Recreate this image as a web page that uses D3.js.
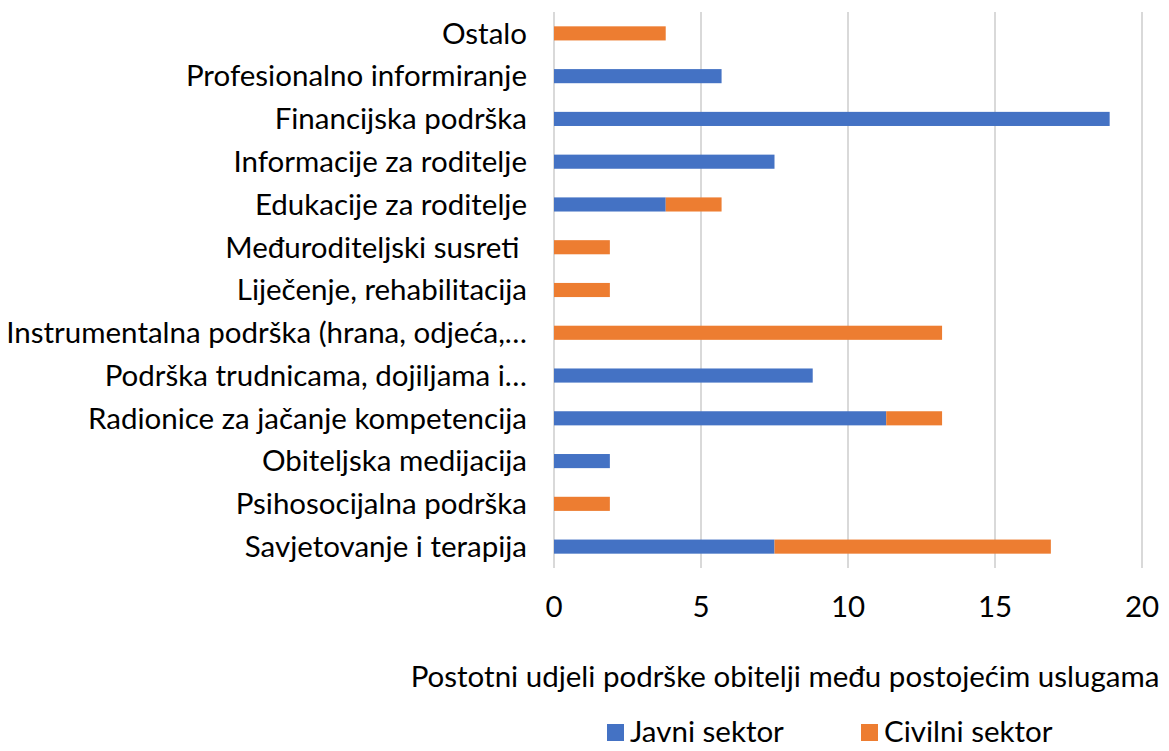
<!DOCTYPE html>
<html>
<head>
<meta charset="utf-8">
<script src="https://cdn.jsdelivr.net/npm/d3@7"></script>
<style>
  body { margin: 0; background: #fff; }
  svg { font-family: Lato, "Open Sans", sans-serif; }
  .label { white-space: pre; }
</style>
</head>
<body>
<svg width="1169" height="751"></svg>
<script>
  // categories top to bottom
  const categories = [
    'Ostalo',
    'Profesionalno informiranje',
    'Financijska podrška',
    'Informacije za roditelje',
    'Edukacije za roditelje',
    'Međuroditeljski susreti ',
    'Liječenje, rehabilitacija',
    'Instrumentalna podrška (hrana, odjeća,…',
    'Podrška trudnicama, dojiljama i…',
    'Radionice za jačanje kompetencija',
    'Obiteljska medijacija',
    'Psihosocijalna podrška',
    'Savjetovanje i terapija'
  ];
  const javniSektor  = [0, 5.7, 18.9, 7.5, 3.8, 0, 0, 0, 8.8, 11.3, 1.9, 0, 7.5];
  const civilniSektor = [3.8, 0, 0, 0, 1.9, 1.9, 1.9, 13.2, 0, 1.9, 0, 1.9, 9.4];
  const seriesNames = ['Javni sektor', 'Civilni sektor'];
  const colors = ['#4472C4', '#ED7D31'];
  const xTicks = [0, 5, 10, 15, 20];

  const svg = d3.select('svg');
  const margin = {left: 554, right: 27, top: 12, bottom: 183};
  const width = 1169 - margin.left - margin.right;
  const height = 751 - margin.top - margin.bottom;
  const fontSize = 29.5;

  const rows = categories.map((c, i) => ({
    cat: c, 'Javni sektor': javniSektor[i], 'Civilni sektor': civilniSektor[i]
  }));

  const stack = d3.stack().keys(seriesNames)(rows);

  const x = d3.scaleLinear().domain([0, 20]).range([0, width]);
  const y = d3.scaleBand().domain(categories).range([0, height]).paddingInner(0.67).paddingOuter(0.335);

  const g = svg.append('g').attr('transform', `translate(${margin.left},${margin.top})`);

  // gridlines
  g.selectAll('.grid').data(xTicks)
    .enter().append('line')
      .attr('x1', d => x(d)).attr('x2', d => x(d))
      .attr('y1', 0).attr('y2', height)
      .attr('stroke', '#d9d9d9')
      .attr('stroke-width', 2);

  // bars
  g.selectAll('.series').data(stack)
    .enter().append('g')
      .attr('fill', (d, i) => colors[i])
    .selectAll('rect').data(d => d)
    .enter().append('rect')
      .attr('x', d => x(d[0]))
      .attr('y', d => y(d.data.cat))
      .attr('width', d => x(d[1]) - x(d[0]))
      .attr('height', y.bandwidth());

  // category labels
  g.selectAll('.label').data(categories)
    .enter().append('text')
      .attr('class', 'label')
      .attr('x', -27)
      .attr('y', d => y(d) + y.bandwidth() / 2)
      .attr('dy', '0.35em')
      .attr('text-anchor', 'end')
      .attr('font-size', fontSize)
      .attr('fill', '#000')
      .text(d => d);

  // x tick labels
  g.selectAll('.tick').data(xTicks)
    .enter().append('text')
      .attr('x', d => x(d))
      .attr('y', height + 39)
      .attr('dy', '0.35em')
      .attr('text-anchor', 'middle')
      .attr('font-size', fontSize)
      .attr('fill', '#000')
      .text(d => d);

  // axis title
  svg.append('text')
    .attr('x', 785)
    .attr('y', 677)
    .attr('dy', '0.35em')
    .attr('text-anchor', 'middle')
    .attr('font-size', fontSize)
    .attr('fill', '#000')
    .text('Postotni udjeli podrške obitelji među postojećim uslugama');

  // legend (nudged up a little so the text is not clipped)
  const legendX = [607, 861];
  const legend = svg.selectAll('.legend').data(seriesNames)
    .enter().append('g')
      .attr('transform', (d, i) => `translate(${legendX[i]},724)`);
  legend.append('rect')
    .attr('width', 17).attr('height', 17)
    .attr('fill', (d, i) => colors[i]);
  legend.append('text')
    .attr('x', 23).attr('y', 18)
    .attr('font-size', fontSize)
    .attr('fill', '#000')
    .text(d => d);
</script>
</body>
</html>
